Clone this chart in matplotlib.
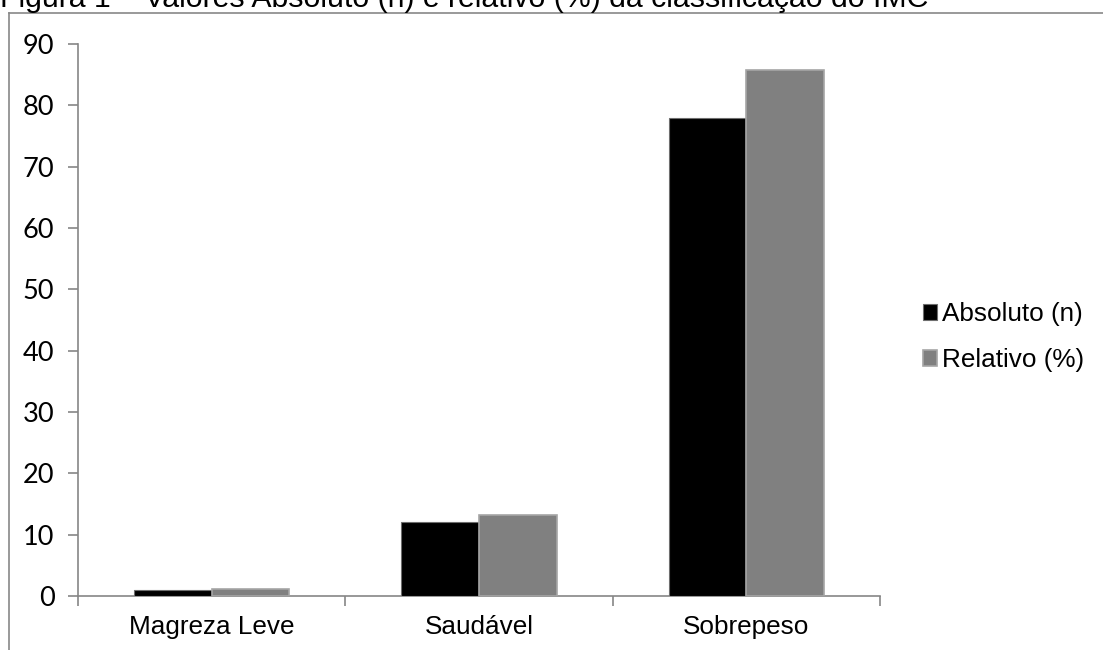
import numpy as np
import matplotlib.pyplot as plt
from matplotlib.lines import Line2D

categorias = ["Magreza Leve", "Saudável", "Sobrepeso"]
absoluto = [1, 12, 78]
relativo = [1.1, 13.2, 85.7]
series = ["Absoluto (n)", "Relativo (%)"]
yticks = [0, 10, 20, 30, 40, 50, 60, 70, 80, 90]

fig = plt.figure(figsize=(11.03, 6.5), dpi=100)
ax = fig.add_axes([78 / 1103, 54 / 650, 802 / 1103, 552 / 650])

x = np.arange(len(categorias))
w = 0.29
ax.bar(x - w / 2, absoluto, w, color="black", edgecolor="#6e6e6e", linewidth=0.8,
       label=series[0], zorder=3)
ax.bar(x + w / 2, relativo, w, color="#808080", edgecolor="#a6a6a6", linewidth=1.2,
       label=series[1], zorder=3)

ax.set_xlim(-0.5, len(categorias) - 0.5)
ax.set_ylim(0, 90)
ax.set_yticks(yticks)
ax.set_yticklabels([str(v) for v in yticks], family="Lato", fontsize=19.5)

ax.set_xticks(x)
ax.set_xticklabels(categorias, family="Liberation Sans", fontsize=18.8)
ax.set_xticks(np.arange(len(categorias) + 1) - 0.5, minor=True)
ax.tick_params(axis="x", which="major", length=0, pad=14)
ax.tick_params(axis="x", which="minor", length=7, width=1.2, color="#868686")
ax.tick_params(axis="y", length=7, width=1.2, color="#868686", pad=10)

for s in ["top", "right"]:
    ax.spines[s].set_visible(False)
for s in ["left", "bottom"]:
    ax.spines[s].set_color("#868686")
    ax.spines[s].set_linewidth(1.2)

ax.legend(loc="center left", bbox_to_anchor=(1.024, 0.469), frameon=False,
          prop={"family": "Liberation Sans", "size": 18.8},
          handlelength=0.55, handleheight=0.55, handletextpad=0.2, labelspacing=0.85)

# moldura do gráfico (cortada à direita e embaixo)
fig.add_artist(Line2D([8.5 / 1103, 1.0], [1 - 12.5 / 650] * 2, color="#888888", lw=1.2))
fig.add_artist(Line2D([8.5 / 1103] * 2, [0.0, 1 - 12.5 / 650], color="#888888", lw=1.2))

fig.text(0.0, 1 - 7 / 650, "Figura 1 – Valores Absoluto (n) e relativo (%) da classificação do IMC",
         family="Liberation Sans", fontsize=21.8, va="baseline", ha="left")

fig.savefig("out.png", dpi=100)
